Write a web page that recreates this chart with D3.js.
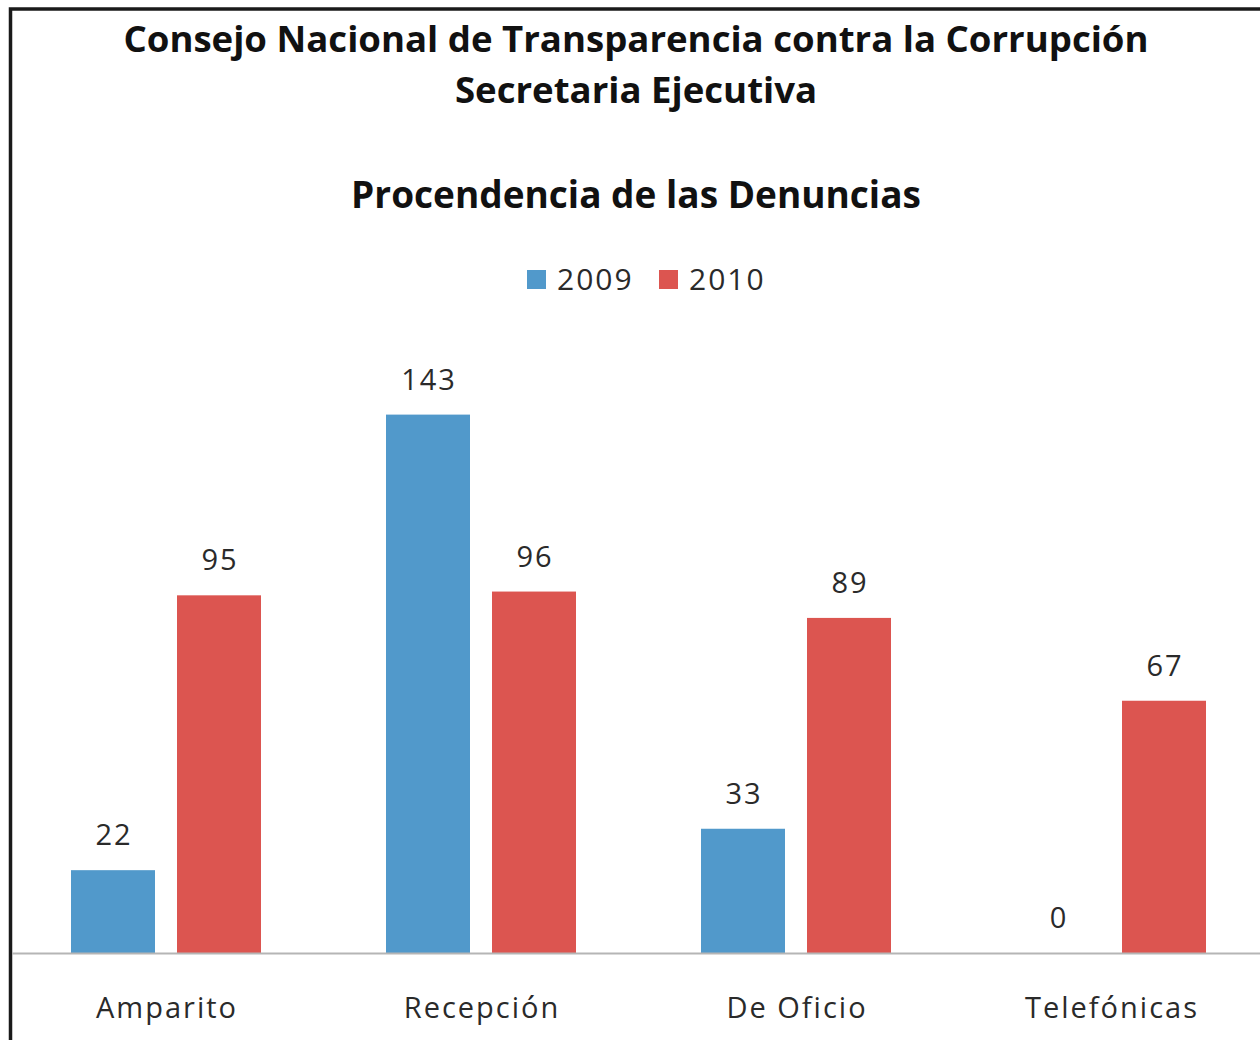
<!DOCTYPE html>
<html><head><meta charset="utf-8">
<script src="https://cdn.jsdelivr.net/npm/d3@7"></script>
<style>body{margin:0;background:#fff}svg{display:block}text{font-family:"Open Sans",sans-serif}</style>
</head><body>
<svg id="c" width="1260" height="1040"></svg>
<script>
const categories = ["Amparito", "Recepción", "De Oficio", "Telefónicas"];
const seriesNames = ["2009", "2010"];
const values2009 = [22, 143, 33, 0];
const values2010 = [95, 96, 89, 67];
const colors = ["#5199cb", "#dc5550"];
const titleLines = ["Consejo Nacional de Transparencia contra la Corrupción", "Secretaria Ejecutiva"];
const subtitle = "Procendencia de las Denuncias";

const svg = d3.select("#c");
svg.append("rect").attr("x",0).attr("y",0).attr("width",1260).attr("height",1040).attr("fill","#fff");
// frame
svg.append("rect").attr("x",10.5).attr("y",9).attr("width",1262).attr("height",1050)
  .attr("fill","none").attr("stroke","#1a1a1a").attr("stroke-width",3.5);

const x0 = d3.scaleBand().domain(categories).range([8.5, 1268.5]).paddingInner(0).paddingOuter(0);
const x1 = d3.scaleBand().domain(seriesNames).range([62.5, 252.5]).paddingInner(22/106).paddingOuter(0);
const y = d3.scaleLinear().domain([0, 160]).range([953, 350.6]);

const data = categories.map((c,i)=>({cat:c, vals:[values2009[i], values2010[i]]}));

const g = svg.append("g");
const groups = g.selectAll("g.cat").data(data).join("g").attr("transform", d=>`translate(${x0(d.cat)},0)`);
groups.selectAll("rect").data(d=>d.vals.map((v,j)=>({v, s:seriesNames[j], j})))
  .join("rect")
  .attr("x", d=>x1(d.s)).attr("width", x1.bandwidth())
  .attr("y", d=>y(d.v)).attr("height", d=>y(0)-y(d.v))
  .attr("fill", d=>colors[d.j]);
groups.selectAll("text.val").data(d=>d.vals.map((v,j)=>({v, s:seriesNames[j], j})))
  .join("text").attr("class","val")
  .attr("x", d=>x1(d.s)+x1.bandwidth()/2+1).attr("y", d=>y(d.v)-25)
  .attr("text-anchor","middle").attr("font-size",29).attr("letter-spacing",2).attr("fill","#2a2a2a")
  .text(d=>d.v);

// baseline
svg.append("line").attr("x1",12).attr("x2",1260).attr("y1",y(0)+0.5).attr("y2",y(0)+0.5)
  .attr("stroke","#b5b5b5").attr("stroke-width",2);

// category axis labels
const ax = d3.axisBottom(x0).tickSize(0).tickPadding(0);
const axg = svg.append("g").attr("transform",`translate(0,${y(0)})`).call(ax);
axg.select(".domain").remove();
axg.selectAll("text").attr("font-size",29).attr("fill","#2a2a2a").attr("dy",0).attr("y",65).attr("x",1)
  .attr("letter-spacing",2).style("font-family","'Open Sans',sans-serif");

// titles
svg.append("text").attr("x",636).attr("y",52).attr("text-anchor","middle").attr("font-size",36.6)
  .attr("font-weight","bold").attr("fill","#111").text(titleLines[0]);
svg.append("text").attr("x",636).attr("y",103).attr("text-anchor","middle").attr("font-size",36.6)
  .attr("font-weight","bold").attr("fill","#111").text(titleLines[1]);
svg.append("text").attr("x",636).attr("y",208).attr("text-anchor","middle").attr("font-size",37)
  .attr("font-weight","bold").attr("fill","#111").text(subtitle);

// legend
const leg = svg.append("g");
const legX = [527, 659];
seriesNames.forEach((s,i)=>{
  leg.append("rect").attr("x",legX[i]).attr("y",270).attr("width",19).attr("height",19).attr("fill",colors[i]);
  leg.append("text").attr("x",legX[i]+30).attr("y",290).attr("font-size",30).attr("letter-spacing",2)
    .attr("fill","#2a2a2a").text(s);
});
</script>
</body></html>
